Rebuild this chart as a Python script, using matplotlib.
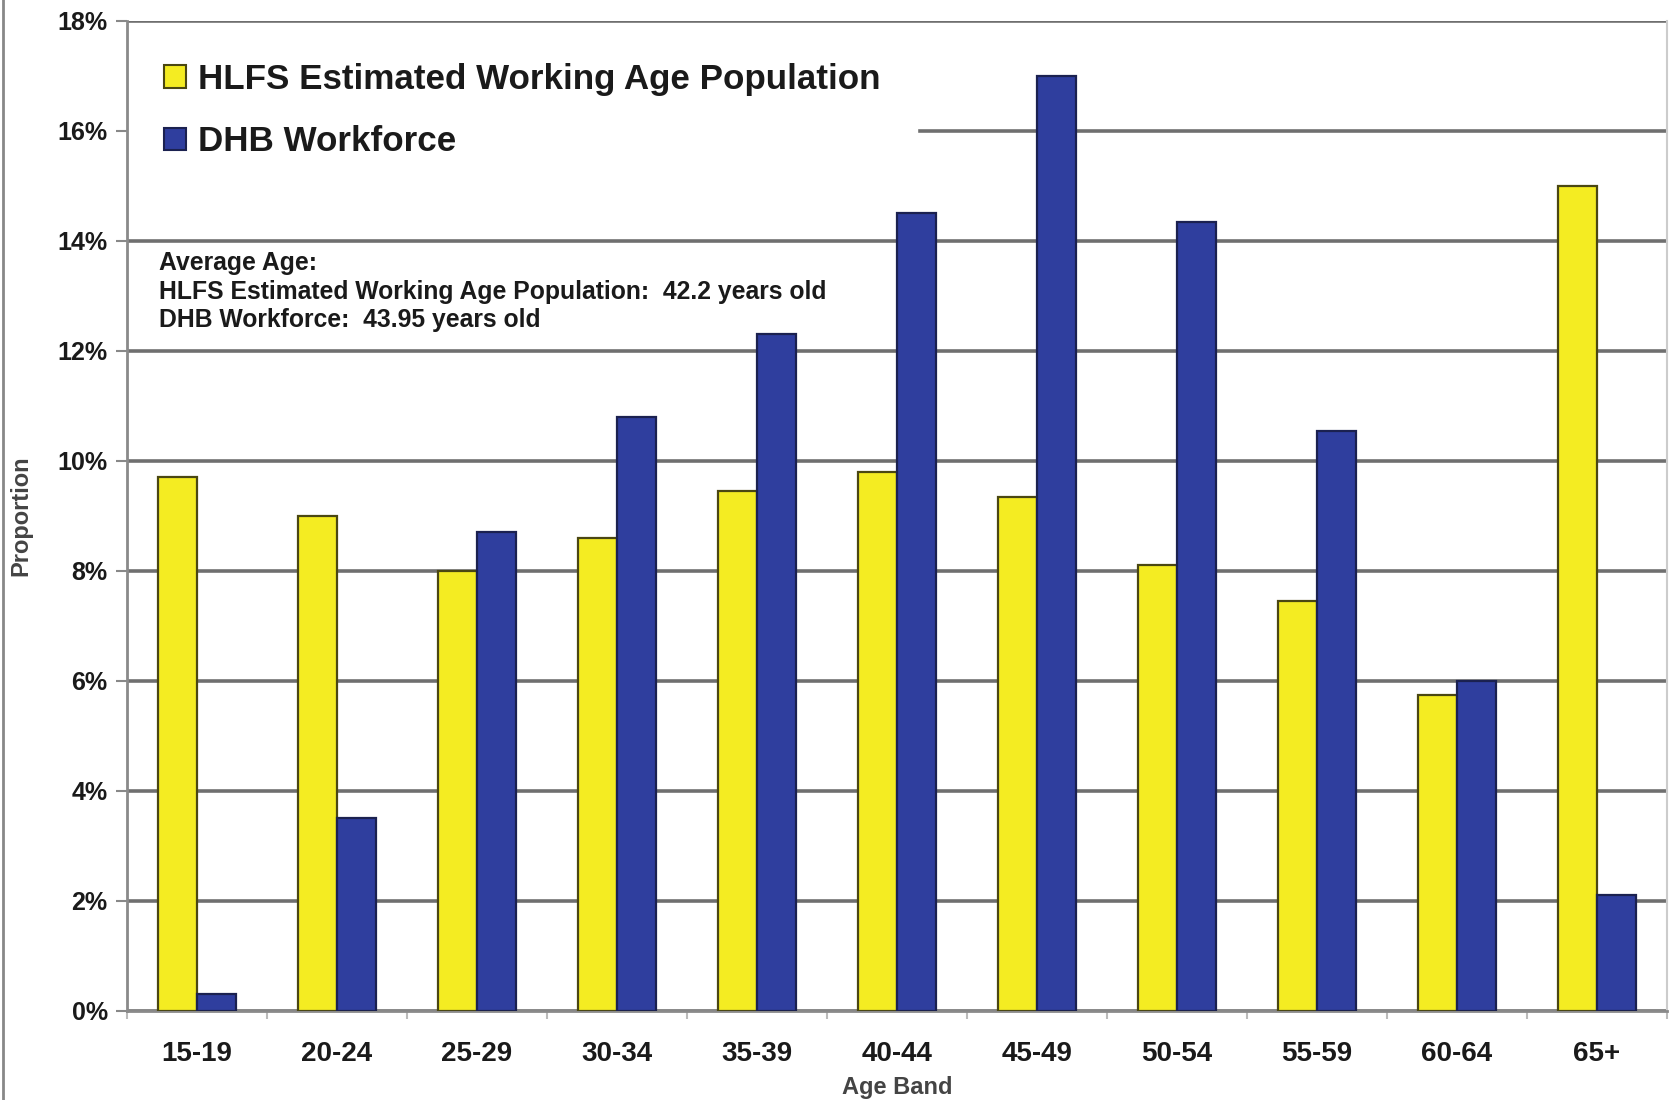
import matplotlib
matplotlib.use('Agg')
import matplotlib.pyplot as plt
from matplotlib.patches import Patch
from matplotlib.lines import Line2D
import numpy as np

age_bands = ['15-19', '20-24', '25-29', '30-34', '35-39', '40-44',
             '45-49', '50-54', '55-59', '60-64', '65+']
hlfs = [9.7, 9.0, 8.0, 8.6, 9.45, 9.8, 9.35, 8.1, 7.45, 5.75, 15.0]
dhb = [0.3, 3.5, 8.7, 10.8, 12.3, 14.5, 17.0, 14.35, 10.55, 6.0, 2.1]
yticks = [0, 2, 4, 6, 8, 10, 12, 14, 16, 18]
series_names = ['HLFS Estimated Working Age Population', 'DHB Workforce']
note_lines = ['Average Age:',
              'HLFS Estimated Working Age Population:  42.2 years old',
              'DHB Workforce:  43.95 years old']

plt.rcParams['font.family'] = ['Liberation Sans', 'DejaVu Sans']

yellow = '#f4ec22'
blue = '#2f3e9e'
grid_col = '#6f6f6f'

fig = plt.figure(figsize=(16.72, 11), dpi=100)
ax = fig.add_axes([0.076, 0.081, 0.921, 0.900])

x = np.arange(len(age_bands))
w = 0.28
ax.bar(x - w / 2, hlfs, w, color=yellow, edgecolor='#4a4712', linewidth=1.6, zorder=3)
ax.bar(x + w / 2, dhb, w, color=blue, edgecolor='#1b2150', linewidth=1.6, zorder=3)

ax.set_xlim(-0.5, len(age_bands) - 0.5)
ax.set_ylim(0, 18)
ax.set_yticks(yticks)
ax.set_yticklabels(['%d%%' % t for t in yticks], fontsize=18, fontweight='bold', color='#1a1a1a')
ax.set_xticks(x)
ax.set_xticklabels(age_bands, fontsize=20, fontweight='bold', color='#1a1a1a')
ax.set_xticks(np.arange(-0.5, len(age_bands)), minor=True)
ax.tick_params(axis='x', which='major', length=0, pad=22)
ax.tick_params(axis='x', which='minor', length=6, color='#bbbbbb', width=1.5)
ax.tick_params(axis='y', length=8, color='#888888', width=1.5, pad=6)

ax.yaxis.grid(True, color=grid_col, linewidth=2.6, zorder=1)
ax.set_axisbelow(True)
ax.spines['top'].set_visible(False)
ax.spines['left'].set_color('#8a8a8a')
ax.spines['left'].set_linewidth(2)
ax.spines['left'].set_zorder(7)
ax.spines['bottom'].set_color('#8a8a8a')
ax.spines['bottom'].set_linewidth(2)
ax.spines['right'].set_color('#cccccc')
ax.spines['right'].set_linewidth(1.5)

ax.set_ylabel('Proportion', fontsize=17, fontweight='bold', color='#444444', labelpad=18)
ax.set_xlabel('Age Band', fontsize=17, fontweight='bold', color='#444444', labelpad=6)

handles = [Patch(facecolor=yellow, edgecolor='#4a4712', linewidth=1.5),
           Patch(facecolor=blue, edgecolor='#1b2150', linewidth=1.5)]
leg = ax.legend(handles, series_names, loc='upper left', bbox_to_anchor=(0.0, 0.995),
                prop={'size': 25.2, 'weight': 'bold'}, frameon=True, fancybox=False,
                edgecolor='white', facecolor='white', framealpha=1,
                handlelength=0.62, handleheight=0.62, handletextpad=0.35,
                labelspacing=0.85, borderpad=1.05, borderaxespad=0.0)
leg.set_zorder(5)
for t in leg.get_texts():
    t.set_color('#1a1a1a')

ax.text(0.021, 0.768, '\n'.join(note_lines), transform=ax.transAxes,
        ha='left', va='top', fontsize=17.8, fontweight='bold', color='#1a1a1a',
        linespacing=1.26, zorder=6)

fig.add_artist(Line2D([0.0015, 0.0015], [0, 1], color='#888888', linewidth=2))

fig.savefig('out.png', dpi=100)
